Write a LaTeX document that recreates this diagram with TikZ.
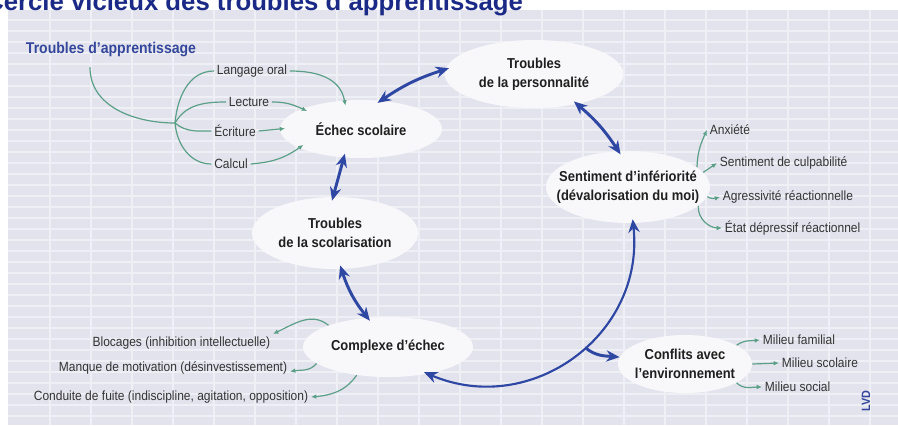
\documentclass[tikz,border=0pt]{standalone}
\usepackage{fontspec}
\setmainfont{Liberation Sans}[FakeStretch=0.9]
\newfontfamily\titlefont{Liberation Sans}
\usetikzlibrary{arrows.meta,calc,shapes.geometric}
\definecolor{bgl}{HTML}{E3E3EE}
\definecolor{gridl}{HTML}{EFEFF6}
\definecolor{ellf}{HTML}{F8F8FA}
\definecolor{navy}{HTML}{1B2A86}
\definecolor{ablue}{HTML}{2E47A3}
\definecolor{tblue}{HTML}{34479B}
\definecolor{agreen}{HTML}{5A9F86}
\definecolor{txt}{HTML}{333333}
\begin{document}
\begin{tikzpicture}[x=0.75pt,y=-0.75pt,
  bub/.style={ellipse, fill=ellf, inner sep=0pt},
  bubtext/.style={inner sep=0pt, align=center, text=black!88, font=\fontsize{10.8}{14.5}\selectfont\bfseries},
  item/.style={inner sep=2pt, text=txt, font=\fontsize{10}{12}\selectfont},
  barrow/.style={draw=ablue, line width=2.2pt, {Stealth[length=10pt,width=8.5pt]}-{Stealth[length=10pt,width=8.5pt]}, shorten <=-3pt, shorten >=-3pt},
  bone/.style={draw=ablue, line width=2.2pt, -{Stealth[length=10pt,width=8.5pt]}},
  garrow/.style={draw=agreen, line width=0.9pt, -{Latex[length=4pt,width=3.5pt]}},
  gin/.style={shorten >=-4pt},
  gline/.style={draw=agreen, line width=0.9pt},
]
\useasboundingbox (0,0) rectangle (898,425);
\clip (0,0) rectangle (898,425);
\fill[white] (0,0) rectangle (898,425);
\fill[bgl] (8,10) rectangle (898,425);
\foreach \k in {0,...,20} \draw[gridl, line width=0.8pt] ({50+41*\k},10) -- ({50+41*\k},425);
\foreach \k in {0,...,37} \draw[gridl, line width=0.8pt] (8,{20+11*\k}) -- (898,{20+11*\k});

\node[anchor=base west, inner sep=0pt, text=navy, font=\titlefont\bfseries\fontsize{19.3}{20}\selectfont] (title) at (-15,10) {Cercle vicieux des troubles d’apprentissage};

% bubbles
\node[bub, minimum width=121.5pt, minimum height=43.5pt, label={[bubtext]center:{Échec scolaire}}] (esc) at (361,129) {};
\node[bub, minimum width=134pt, minimum height=51pt, label={[bubtext]center:{Troubles\\de la personnalité}}] (pers) at (534,74) {};
\node[bub, minimum width=123pt, minimum height=54pt, label={[bubtext]center:{Sentiment d’infériorité\\(dévalorisation du moi)}}] (sent) at (628,187) {};
\node[bub, minimum width=124.5pt, minimum height=54pt, label={[bubtext]center:{Troubles\\de la scolarisation}}] (scol) at (335,233) {};
\node[bub, minimum width=127.5pt, minimum height=45pt, label={[bubtext]center:{Complexe d’échec}}] (comp) at (388,347) {};
\node[bub, minimum width=100.5pt, minimum height=43.5pt, label={[bubtext]center:{Conflits avec\\l’environnement}}] (conf) at (685,364) {};

% texts
\node[anchor=base, inner sep=2pt, text=tblue, font=\fontsize{11.7}{14}\selectfont\bfseries] (ta) at (111,53) {Troubles d’apprentissage};
\node[item] (lo) at (252,71) {Langage oral};
\node[item] (le) at (249,102) {Lecture};
\node[item] (ec) at (235,131) {Écriture};
\node[item] (ca) at (231,164) {Calcul};
\node[item, anchor=west] (anx) at (707,130) {Anxiété};
\node[item, anchor=west] (cu) at (717,163) {Sentiment de culpabilité};
\node[item, anchor=west] (ag) at (720,197) {Agressivité réactionnelle};
\node[item, anchor=west] (et) at (722,228) {État dépressif réactionnel};
\node[item, anchor=east] (bl) at (273,343) {Blocages (inhibition intellectuelle)};
\node[item, anchor=east] (ma) at (290,368) {Manque de motivation (désinvestissement)};
\node[item, anchor=east] (co) at (311,397) {Conduite de fuite (indiscipline, agitation, opposition)};
\node[item, anchor=west] (mf) at (760,340) {Milieu familial};
\node[item, anchor=west] (ms) at (779,363) {Milieu scolaire};
\node[item, anchor=west] (mso) at (762,387) {Milieu social};
\node[rotate=90, inner sep=0pt, text=tblue, font=\fontsize{9}{10}\selectfont\bfseries] (lvd) at (866,401) {LVD};

% blue cycle
\draw[barrow] (esc.55) to[bend left=8] (pers.177);
\draw[barrow] (pers.-35) to[bend left=8] (sent.105);
\draw[barrow] (esc.-121) -- (scol.93);
\draw[barrow] (scol.-80) to[bend right=10] (comp.125);
\draw[barrow, line width=1.6pt] (comp.-34) to[out=-23,in=-84,looseness=1.13] coordinate[pos=0.55] (br) (sent.-82);
\draw[bone] (br) to[out=-40,in=175] (conf.174);

% green: troubles d'apprentissage
\coordinate (jn) at (175,123);
\draw[gline] ($(ta.south)+(-21,8)$) to[out=-90,in=180] (jn);
\draw[gline] (jn) to[out=85,in=180] (lo.west);
\draw[gline] (jn) to[out=60,in=180] (le.west);
\draw[gline] (jn) to[out=-40,in=180] (ec.west);
\draw[gline] (jn) to[out=-85,in=180] (ca.west);
\draw[garrow, gin] (lo.east) to[out=0,in=100] (esc.120);
\draw[garrow, gin] (le.east) to[out=0,in=155] (esc.161);
\draw[garrow, gin] (ec.east) -- (esc.180);
\draw[garrow, gin] (ca.east) to[out=5,in=215] (esc.197);

% green: sentiment
\draw[garrow] (sent.16) to[out=88,in=-115] (anx.west);
\draw[garrow] (sent.11) -- (cu.west);
\draw[garrow] (sent.-7) to[out=-30,in=195] (ag.west);
\draw[garrow] (sent.-15) to[out=-95,in=180] (et.west);

% green: complexe
\draw[garrow] (comp.160) to[out=140,in=25] (bl.north east);
\draw[garrow] (comp.193) to[out=-130,in=10] (ma.base east);
\draw[garrow] (comp.222) to[out=-125,in=5] (co.east);

% green: conflits
\draw[garrow] (conf.20) to[out=35,in=185] (mf.west);
\draw[garrow] (conf.0) -- (ms.west);
\draw[garrow] (conf.-20) to[out=-45,in=180] (mso.west);
\end{tikzpicture}
\end{document}
